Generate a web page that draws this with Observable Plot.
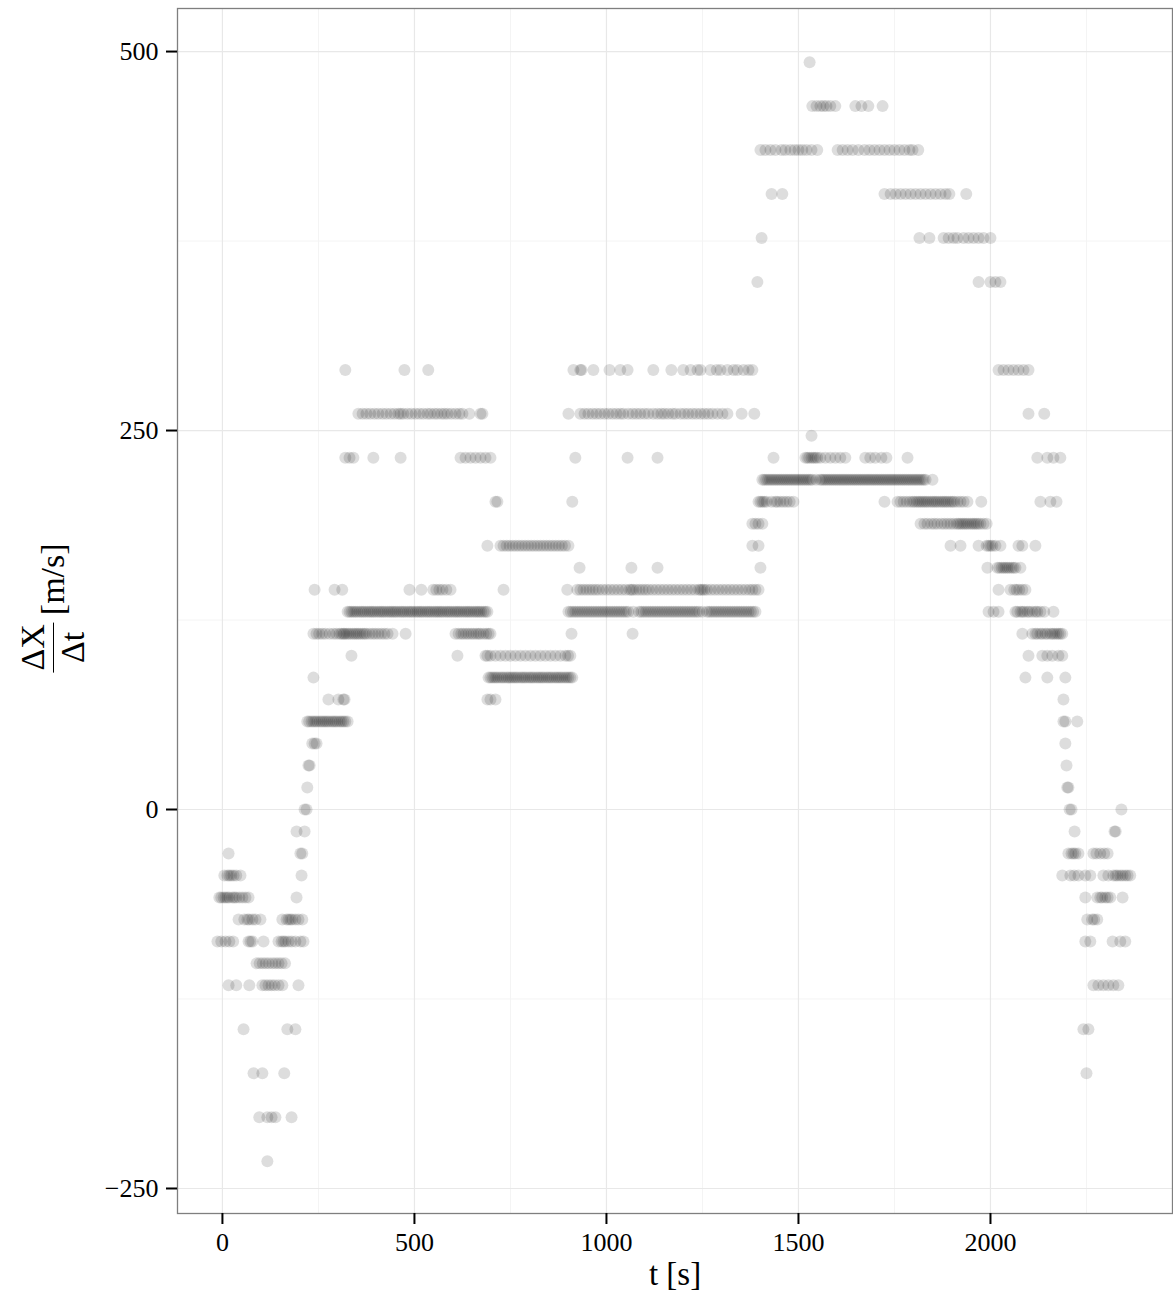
<!DOCTYPE html>
<html>
<head>
<meta charset="utf-8">
<script src="https://cdn.jsdelivr.net/npm/d3@7"></script>
<script src="https://cdn.jsdelivr.net/npm/@observablehq/plot@0.6"></script>
<style>
  html, body { margin: 0; padding: 0; background: #fff; }
  #wrap { position: relative; width: 1173px; height: 1295px; font-family: "Liberation Serif", "DejaVu Serif", serif; color: #000; }
  #ylab { position: absolute; left: 53px; top: 608px; transform: translate(-50%, -50%) rotate(-90deg); display: flex; align-items: center; white-space: nowrap; font-size: 34px; }
  #ylab .frac { display: inline-flex; flex-direction: column; align-items: center; margin-right: 7px; line-height: 1.0; }
  #ylab .num { padding: 0 2px 3px 2px; border-bottom: 1.6px solid #000; }
  #ylab .den { padding: 2px 2px 0 2px; }
  #xlab { position: absolute; left: 675px; top: 1274px; transform: translate(-50%, -50%); font-size: 33px; white-space: nowrap; }
</style>
</head>
<body>
<div id="wrap">
  <div id="chart"></div>
  <div id="ylab"><span class="frac"><span class="num">ΔX</span><span class="den">Δt</span></span><span>[m/s]</span></div>
  <div id="xlab">t [s]</div>
</div>
<script>
// Axis ticks and grid breaks
const xTicks = [0, 500, 1000, 1500, 2000];
const xMinor = [250, 750, 1250, 1750, 2250];
const yTicks = [-250, 0, 250, 500];
const yMinor = [-125, 125, 375];

// Quantised speed levels ΔX/Δt [m/s]
const speedLevels = [-232, -203, -174, -145, -116, -101.5, -87, -72.5, -58, -43.5, -29, -14.5, 0, 14.5, 29, 43.5, 58, 72.5, 87, 101.5, 116, 130.5, 145, 159.5, 174, 188.5, 203, 217.5, 232, 246.5, 261, 290, 348, 377, 406, 435, 464, 493];

// Sample times t [s] observed at each speed level (same order as speedLevels)
const timesAtLevel = [
  [117],
  [96, 117, 128, 138, 180],
  [81, 104, 161, 2250],
  [55, 169, 190, 2242, 2255],
  [16, 36, 70, 104, 112, 120, 128, 136, 146, 156, 198, 2268, 2281, 2294, 2307, 2320, 2333],
  [89, 97, 105, 113, 121, 130, 138, 146, 154, 163],
  [-13, -3, 8, 18, 28, 68, 73, 78, 107, 146, 154, 159, 164, 172, 180, 190, 203, 211, 2247, 2260, 2318, 2338, 2351],
  [42, 57, 65, 70, 78, 86, 99, 156, 167, 172, 177, 182, 190, 198, 208, 2252, 2265, 2270, 2278],
  [-8, -3, 3, 8, 13, 18, 26, 31, 36, 44, 52, 60, 68, 193, 2247, 2278, 2286, 2291, 2299, 2305, 2312, 2344],
  [5, 13, 18, 23, 29, 36, 47, 206, 2187, 2208, 2218, 2229, 2247, 2260, 2294, 2307, 2320, 2326, 2331, 2338, 2344, 2351, 2357, 2364],
  [16, 203, 208, 2203, 2211, 2216, 2221, 2229, 2268, 2276, 2286, 2296, 2305],
  [193, 214, 2219, 2323, 2326],
  [214, 219, 2206, 2211, 2341],
  [221, 2200, 2203],
  [224, 227, 2198],
  [234, 240, 245, 2195],
  [221, 226, 232, 237, 242, 247, 253, 258, 263, 268, 273, 278, 284, 289, 294, 299, 305, 310, 315, 320, 326, 2190, 2195, 2226],
  [276, 302, 315, 318, 690, 698, 711, 2190],
  [237, 693, 698, 703, 708, 713, 718, 724, 729, 734, 740, 745, 750, 755, 760, 765, 770, 776, 781, 786, 791, 797, 802, 807, 812, 818, 823, 828, 833, 838, 844, 849, 854, 859, 865, 870, 875, 880, 885, 891, 896, 901, 906, 911, 2091, 2148, 2195],
  [336, 612, 685, 690, 698, 711, 724, 737, 750, 763, 776, 789, 802, 815, 828, 841, 854, 867, 880, 893, 900, 906, 2099, 2135, 2148, 2161, 2177, 2187],
  [237, 245, 252, 260, 268, 279, 289, 297, 305, 310, 315, 318, 323, 328, 333, 339, 344, 349, 354, 359, 365, 370, 375, 383, 391, 398, 406, 414, 422, 430, 443, 477, 607, 615, 622, 628, 635, 641, 648, 654, 661, 667, 672, 680, 687, 693, 698, 909, 1068, 2083, 2109, 2117, 2122, 2130, 2135, 2143, 2148, 2156, 2161, 2166, 2172, 2177, 2182, 2187],
  [326, 331, 336, 341, 346, 351, 357, 362, 367, 372, 378, 383, 388, 393, 398, 404, 409, 414, 419, 424, 430, 435, 440, 445, 450, 455, 461, 466, 471, 476, 482, 487, 492, 497, 503, 508, 513, 518, 523, 529, 534, 539, 544, 550, 555, 560, 565, 570, 575, 581, 586, 591, 596, 602, 607, 612, 617, 622, 628, 633, 638, 643, 648, 654, 659, 664, 669, 674, 680, 685, 690,
   901, 907, 913, 919, 925, 931, 937, 943, 949, 955, 961, 967, 973, 979, 985, 991, 997, 1003, 1009, 1015, 1021, 1027, 1033, 1039, 1045, 1051, 1057, 1070, 1085, 1091, 1097, 1103, 1109, 1115, 1121, 1127, 1133, 1139, 1145, 1151, 1157, 1163, 1169, 1175, 1181, 1187, 1193, 1199, 1205, 1211, 1217, 1223, 1229, 1235, 1241, 1250, 1262, 1268, 1274, 1280, 1286, 1292, 1298, 1304, 1310, 1316, 1322, 1328, 1334, 1340, 1346, 1352, 1358, 1364, 1370, 1376, 1382, 1388,
   1995, 2008, 2021, 2065, 2070, 2078, 2083, 2088, 2096, 2101, 2109, 2117, 2122, 2130, 2140, 2164],
  [240, 292, 312, 487, 518, 549, 557, 565, 573, 583, 594, 732, 898,
   924, 932, 940, 948, 956, 964, 972, 980, 990, 1000, 1010, 1020, 1030, 1040, 1050, 1060, 1065, 1070, 1078, 1086, 1094, 1102, 1110, 1120, 1130, 1140, 1150, 1160, 1170, 1180, 1190, 1200, 1210, 1220, 1230, 1240, 1245, 1250, 1255, 1262, 1272, 1282, 1292, 1302, 1312, 1322, 1332, 1342, 1352, 1362, 1372, 1380, 1388, 1396,
   2021, 2052, 2062, 2068, 2075, 2083, 2091],
  [930, 1065, 1133, 1401, 1992, 2018, 2023, 2029, 2034, 2039, 2044, 2049, 2055, 2060, 2065, 2078],
  [690, 724, 732, 740, 748, 756, 764, 772, 780, 788, 796, 804, 812, 820, 828, 836, 844, 852, 860, 868, 876, 884, 892, 901, 1380, 1396, 1896, 1922, 1969, 1990, 1995, 2000, 2005, 2013, 2026, 2073, 2083, 2117],
  [1380, 1388, 1396, 1406, 1818, 1828, 1836, 1846, 1854, 1862, 1872, 1880, 1888, 1896, 1904, 1912, 1917, 1922, 1927, 1932, 1937, 1942, 1948, 1953, 1958, 1963, 1968, 1974, 1982, 1990],
  [711, 716, 911, 1396, 1401, 1406, 1411, 1417, 1430, 1440, 1445, 1453, 1461, 1469, 1477, 1487, 1724, 1758, 1766, 1774, 1782, 1790, 1797, 1802, 1808, 1813, 1818, 1823, 1828, 1833, 1838, 1844, 1849, 1854, 1859, 1864, 1870, 1875, 1880, 1885, 1890, 1896, 1901, 1906, 1914, 1922, 1930, 1940, 1976, 2130, 2156, 2172],
  [1406, 1411, 1416, 1421, 1426, 1431, 1436, 1441, 1446, 1451, 1456, 1461, 1466, 1471, 1476, 1481, 1486, 1491, 1496, 1501, 1506, 1511, 1516, 1521, 1526, 1531, 1536, 1546, 1556, 1561, 1566, 1571, 1576, 1581, 1586, 1591, 1596, 1601, 1606, 1611, 1616, 1621, 1626, 1631, 1636, 1641, 1646, 1651, 1656, 1661, 1666, 1671, 1676, 1681, 1686, 1691, 1696, 1701, 1706, 1711, 1716, 1721, 1726, 1731, 1736, 1741, 1746, 1751, 1756, 1761, 1766, 1771, 1776, 1781, 1786, 1791, 1796, 1801, 1806, 1811, 1816, 1821, 1826, 1831, 1849],
  [320, 331, 341, 393, 464, 620, 633, 646, 659, 672, 685, 698, 919, 1055, 1133, 1435, 1518, 1523, 1528, 1534, 1539, 1544, 1549, 1557, 1570, 1583, 1596, 1609, 1622, 1674, 1687, 1700, 1716, 1729, 1784, 2122, 2148, 2164, 2182],
  [1534],
  [354, 365, 375, 385, 396, 406, 417, 427, 438, 448, 458, 464, 471, 482, 492, 503, 513, 523, 534, 542, 552, 560, 570, 578, 586, 596, 607, 617, 625, 643, 672, 677, 901, 932, 943, 953, 964, 974, 984, 995, 1005, 1016, 1026, 1036, 1044, 1057, 1068, 1078, 1088, 1099, 1109, 1122, 1133, 1143, 1151, 1161, 1172, 1180, 1193, 1203, 1213, 1224, 1234, 1245, 1255, 1265, 1276, 1289, 1302, 1315, 1352, 1385, 2099, 2140],
  [320, 474, 536, 914, 932, 935, 966, 1008, 1036, 1055, 1122, 1169, 1200, 1219, 1237, 1245, 1271, 1287, 1297, 1315, 1331, 1341, 1357, 1370, 1380, 2021, 2034, 2047, 2060, 2073, 2086, 2099],
  [1393, 1969, 2000, 2013, 2026],
  [1404, 1815, 1841, 1878, 1891, 1904, 1914, 1930, 1943, 1956, 1969, 1982, 2000],
  [1430, 1458, 1724, 1740, 1753, 1766, 1779, 1792, 1805, 1818, 1831, 1844, 1857, 1870, 1883, 1893, 1937],
  [1401, 1414, 1427, 1440, 1456, 1466, 1479, 1490, 1500, 1510, 1521, 1534, 1549, 1602, 1615, 1628, 1641, 1656, 1672, 1685, 1698, 1711, 1724, 1737, 1750, 1763, 1776, 1789, 1797, 1812],
  [1536, 1547, 1557, 1565, 1573, 1583, 1596, 1648, 1664, 1682, 1719],
  [1529]
];

const samples = speedLevels.flatMap((v, i) => timesAtLevel[i].map(t => ({t, v})));

const chart = Plot.plot({
  width: 1173,
  height: 1295,
  marginLeft: 177,
  marginRight: 1,
  marginTop: 8,
  marginBottom: 82,
  style: {fontFamily: "'Liberation Serif', 'DejaVu Serif', serif", fontSize: "26px", background: "#fff", color: "#000", overflow: "visible"},
  x: {domain: [-117, 2474]},
  y: {domain: [-266.5, 528.4]},
  marks: [
    Plot.ruleX(xMinor, {stroke: "#f4f4f4", strokeWidth: 1}),
    Plot.ruleY(yMinor, {stroke: "#f4f4f4", strokeWidth: 1}),
    Plot.ruleX(xTicks, {stroke: "#e8e8e8", strokeWidth: 1.2}),
    Plot.ruleY(yTicks, {stroke: "#e8e8e8", strokeWidth: 1.2}),
    Plot.dot(samples, {x: "t", y: "v", r: 6, fill: "#000", fillOpacity: 0.135, stroke: null}),
    Plot.frame({stroke: "#7f7f7f", strokeWidth: 1.3}),
    Plot.axisX({ticks: xTicks, tickFormat: "d", tickSize: 11, tickPadding: 8, strokeWidth: 2, label: null, fontSize: 26}),
    Plot.axisY({ticks: yTicks, tickFormat: "d", tickSize: 11, tickPadding: 8, strokeWidth: 2, label: null, fontSize: 26})
  ]
});
document.getElementById("chart").appendChild(chart);
</script>
</body>
</html>
